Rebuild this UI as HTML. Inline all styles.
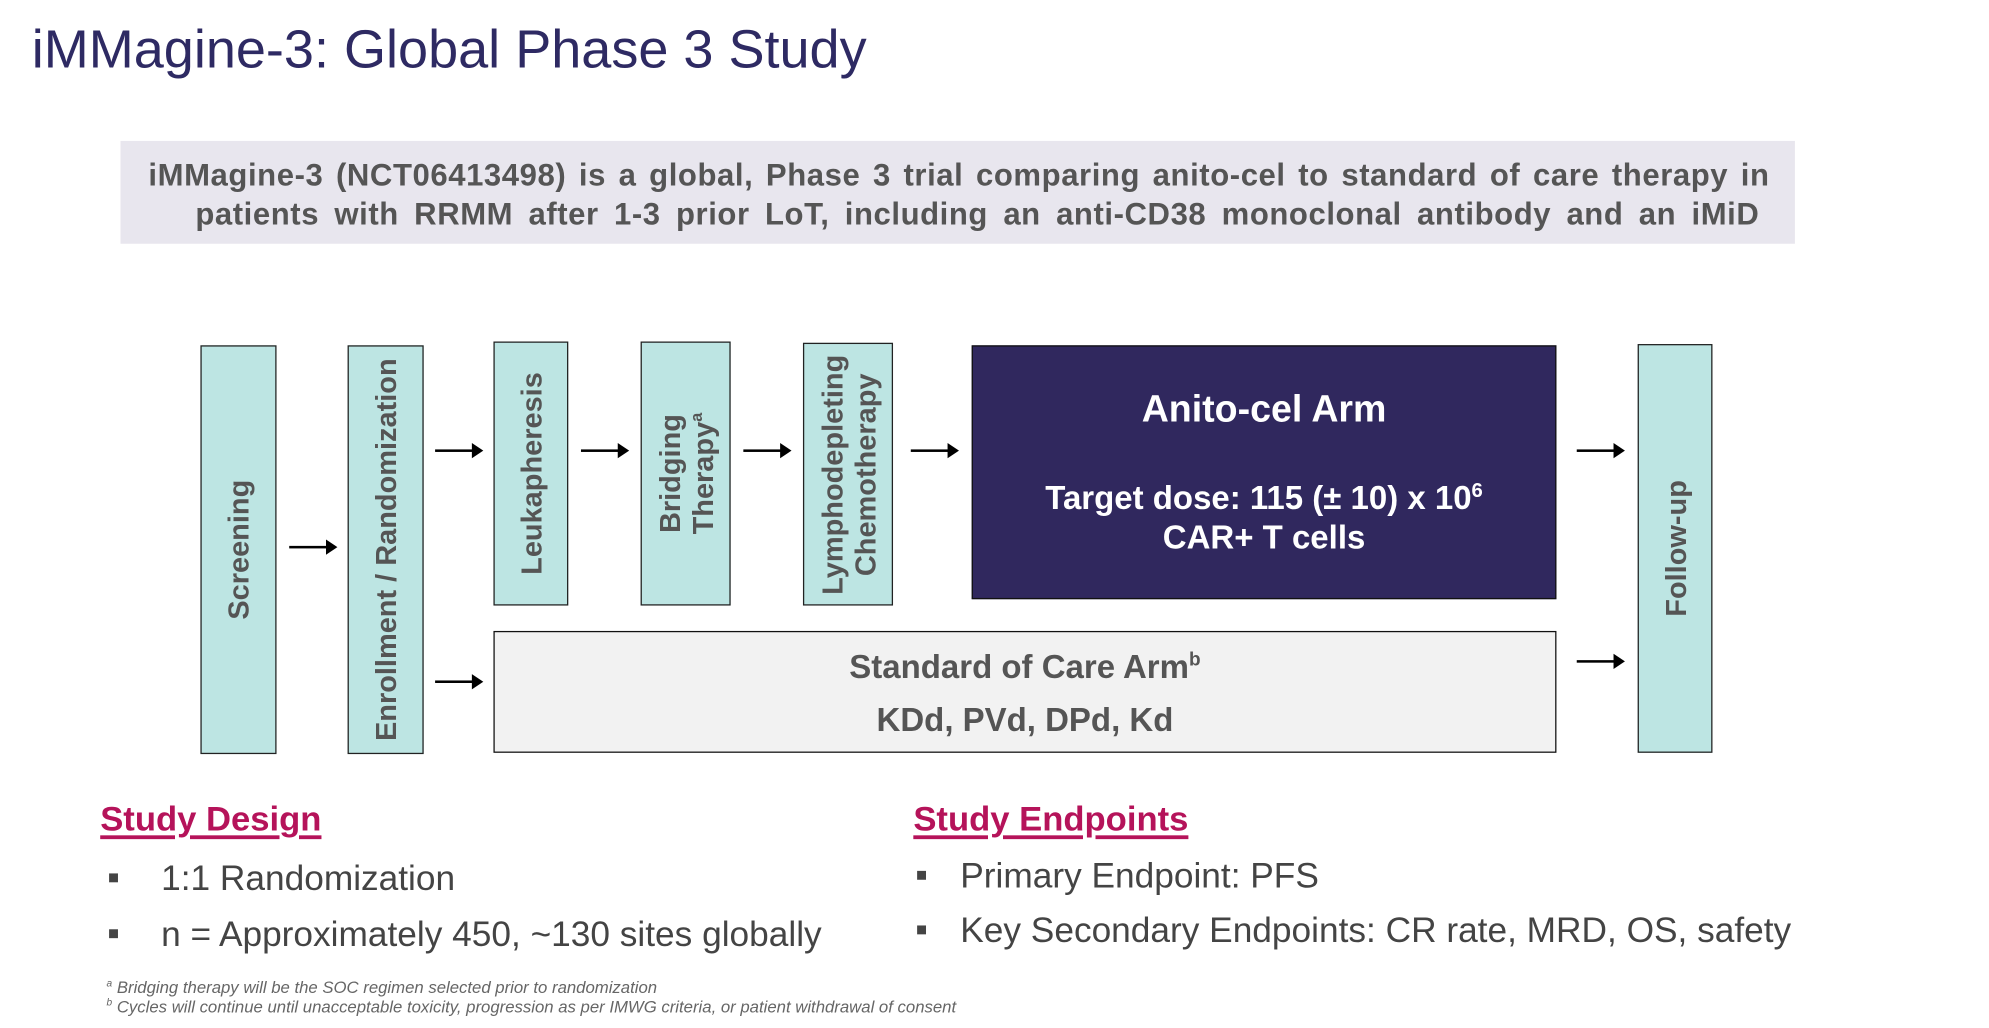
<!DOCTYPE html>
<html><head><meta charset="utf-8"><style>
html,body{margin:0;padding:0;background:#fff;}
body{width:1989px;height:1027px;overflow:hidden;position:relative;}
#w{position:absolute;left:0;top:0;width:1568px;height:810px;transform:scale(1.2685,1.2695);transform-origin:0 0;font-family:"Liberation Sans",Arial,sans-serif;}
.a{position:absolute;}
.box{position:absolute;background:#bde5e3;border:1.3px solid #222;box-sizing:border-box;}
.vt{position:absolute;left:50%;top:50%;transform:translate(-50%,-50%) rotate(-90deg);white-space:nowrap;font-weight:bold;font-size:22.8px;color:#555;text-align:center;line-height:26px;}
.arr{position:absolute;height:2px;background:#000;}
.arr:after{content:"";position:absolute;right:-2px;top:-5px;border-left:9px solid #000;border-top:6px solid transparent;border-bottom:6px solid transparent;}
.bul{position:absolute;width:7px;height:7px;background:#444;}
.bt{position:absolute;font-size:27.8px;color:#444;white-space:nowrap;}
.h{position:absolute;font-size:27.3px;font-weight:bold;color:#b5135a;text-decoration:underline;text-decoration-thickness:3px;text-underline-offset:4px;white-space:nowrap;}
.fn{position:absolute;font-size:13.2px;font-style:italic;color:#666;white-space:nowrap;}
.jl{position:absolute;font-weight:bold;font-size:24.5px;letter-spacing:0.45px;color:#555;text-align:justify;text-align-last:justify;}
</style></head><body><div id="w">
<div class="a" style="left:25px;top:15px;font-size:42.6px;color:#2e2a63;white-space:nowrap;">iMMagine-3: Global Phase 3 Study</div>
<div class="a" style="left:95px;top:111px;width:1320px;height:81px;background:#e8e6ee;"></div>
<div class="jl" style="left:117px;top:125px;width:1278px;">iMMagine-3 (NCT06413498) is a global, Phase 3 trial comparing anito-cel to standard of care therapy in</div>
<div class="jl" style="left:154px;top:156px;width:1233px;">patients with RRMM after 1-3 prior LoT, including an anti-CD38 monoclonal antibody and an iMiD</div>

<div class="box" style="left:158px;top:272px;width:60px;height:322px;"><div class="vt">Screening</div></div>
<div class="box" style="left:274px;top:272px;width:60px;height:322px;"><div class="vt">Enrollment / Randomization</div></div>
<div class="box" style="left:389px;top:269px;width:59px;height:208px;"><div class="vt">Leukapheresis</div></div>
<div class="box" style="left:505px;top:269px;width:71px;height:208px;"><div class="vt">Bridging<br>Therapy<sup style="font-size:13px;line-height:0">a</sup></div></div>
<div class="box" style="left:633px;top:270px;width:71px;height:207px;"><div class="vt">Lymphodepleting<br>Chemotherapy</div></div>
<div class="box" style="left:1291px;top:271px;width:59px;height:322px;"><div class="vt">Follow-up</div></div>

<div class="a" style="left:766px;top:272px;width:461px;height:200px;background:#30285e;border:1.3px solid #111;box-sizing:border-box;color:#fff;font-weight:bold;text-align:center;">
<div style="position:absolute;left:0;right:0;top:33px;font-size:29.6px;">Anito-cel Arm</div>
<div style="position:absolute;left:0;right:0;top:104px;font-size:26px;line-height:31px;">Target dose: 115 (± 10) x 10<sup style="font-size:16px;line-height:0">6</sup><br>CAR+ T cells</div>
</div>
<div class="a" style="left:389px;top:497px;width:838px;height:96px;background:#f2f2f2;border:1.3px solid #111;box-sizing:border-box;color:#555;font-weight:bold;text-align:center;font-size:26px;">
<div style="position:absolute;left:0;right:0;top:12px;">Standard of Care Arm<sup style="font-size:15px;line-height:0">b</sup></div>
<div style="position:absolute;left:0;right:0;top:54px;">KDd, PVd, DPd, Kd</div>
</div>

<div class="arr" style="left:228px;top:430px;width:36px;"></div>
<div class="arr" style="left:343px;top:354px;width:36px;"></div>
<div class="arr" style="left:458px;top:354px;width:36px;"></div>
<div class="arr" style="left:586px;top:354px;width:36px;"></div>
<div class="arr" style="left:718px;top:354px;width:36px;"></div>
<div class="arr" style="left:1243px;top:354px;width:36px;"></div>
<div class="arr" style="left:343px;top:536px;width:36px;"></div>
<div class="arr" style="left:1243px;top:520px;width:36px;"></div>

<div class="h" style="left:79px;top:629px;">Study Design</div>
<div class="h" style="left:720px;top:629px;">Study Endpoints</div>
<div class="bul" style="left:86px;top:688px;"></div>
<div class="bt" style="left:127px;top:676px;">1:1 Randomization</div>
<div class="bul" style="left:86px;top:732px;"></div>
<div class="bt" style="left:127px;top:720px;">n = Approximately 450, ~130 sites globally</div>
<div class="bul" style="left:723px;top:686px;"></div>
<div class="bt" style="left:757px;top:674px;">Primary Endpoint: PFS</div>
<div class="bul" style="left:723px;top:729px;"></div>
<div class="bt" style="left:757px;top:717px;">Key Secondary Endpoints: CR rate, MRD, OS, safety</div>

<div class="fn" style="left:84px;top:770px;"><sup style="font-size:8px">a</sup> Bridging therapy will be the SOC regimen selected prior to randomization</div>
<div class="fn" style="left:84px;top:785px;"><sup style="font-size:8px">b</sup> Cycles will continue until unacceptable toxicity, progression as per IMWG criteria, or patient withdrawal of consent</div>
</div></body></html>
